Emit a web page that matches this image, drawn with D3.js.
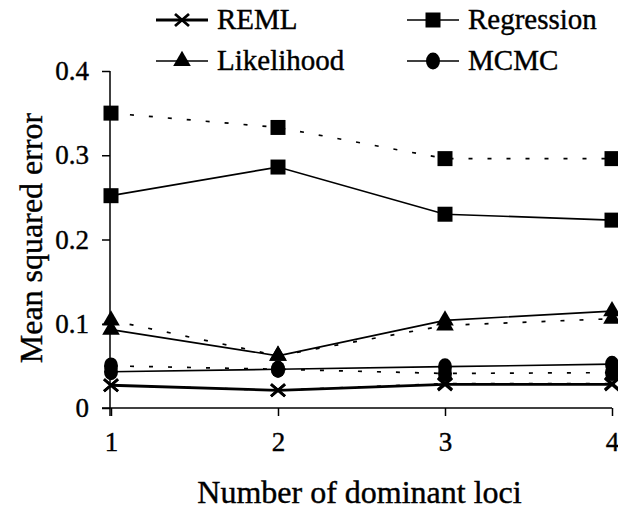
<!DOCTYPE html>
<html>
<head>
<meta charset="utf-8">
<script src="https://cdn.jsdelivr.net/npm/d3@7/dist/d3.min.js"></script>
<style>
  body { margin: 0; background: #fff; }
</style>
</head>
<body>
<div class="first"></div>
<script>
// number of dominant loci
const loci = [1, 2, 3, 4];
const methods = ['REML', 'Likelihood', 'Regression', 'MCMC'];
const yTicks = [0, 0.1, 0.2, 0.3, 0.4];

// solid lines
const remlSolid = [0.027, 0.021, 0.028, 0.028];
const likelihoodSolid = [0.093, 0.062, 0.104, 0.115];
const regressionSolid = [0.252, 0.286, 0.230, 0.223];
const mcmcSolid = [0.043, 0.046, 0.049, 0.052];

// dotted lines
const remlDotted = [0.027, 0.021, 0.029, 0.029];
const likelihoodDotted = [0.104, 0.062, 0.098, 0.106];
const regressionDotted = [0.350, 0.333, 0.296, 0.296];
const mcmcDotted = [0.050, 0.046, 0.041, 0.042];

const serif = "'Liberation Serif', 'Times New Roman', Times, serif";

myVis();

function myVis() {
  const width = 618;
  const height = 510;

  const svg = d3.select('.first').append('svg')
    .attr('width', width).attr('height', height);

  const x = d3.scaleLinear().domain([1, 4]).range([111, 612]);
  const y = d3.scaleLinear().domain([0, 0.4]).range([408, 71]);

  // series table, order = drawing order
  const series = [
    {method: 'Regression', values: regressionDotted, dotted: true},
    {method: 'Regression', values: regressionSolid, dotted: false},
    {method: 'Likelihood', values: likelihoodDotted, dotted: true},
    {method: 'Likelihood', values: likelihoodSolid, dotted: false},
    {method: 'REML', values: remlDotted, dotted: true},
    {method: 'REML', values: remlSolid, dotted: false},
    {method: 'MCMC', values: mcmcDotted, dotted: true},
    {method: 'MCMC', values: mcmcSolid, dotted: false}
  ];

  // axes
  const yAxis = svg.append('g')
    .attr('transform', 'translate(110, 0)')
    .call(d3.axisLeft(y).tickValues(yTicks).tickSize(8).tickPadding(13)
      .tickFormat(d => d === 0 ? '0' : d3.format('.1f')(d)));
  yAxis.select('.domain').attr('d', `M0,${y(0.4)}V416`);

  const xAxis = svg.append('g')
    .attr('transform', `translate(0, ${y(0)})`)
    .call(d3.axisBottom(x).tickValues(loci).tickSize(8).tickPadding(16)
      .tickFormat(d3.format('d')));
  xAxis.select('.domain').attr('d', `M102,0H${x(4)}`);

  svg.selectAll('.domain, .tick line').attr('stroke', '#000').attr('stroke-width', 1.5);
  svg.selectAll('g').attr('font-family', serif);
  svg.selectAll('.tick text').attr('font-size', 27).attr('fill', '#000')
    .attr('stroke', '#000').attr('stroke-width', 0.4);

  // axis titles
  svg.append('text')
    .attr('x', (x(1) + x(4)) / 2 - 2)
    .attr('y', 503)
    .attr('text-anchor', 'middle')
    .attr('font-family', serif)
    .attr('font-size', 32)
    .attr('stroke', '#000').attr('stroke-width', 0.4)
    .text('Number of dominant loci');

  svg.append('text')
    .attr('transform', 'translate(42, 238) rotate(-90)')
    .attr('text-anchor', 'middle')
    .attr('font-family', serif)
    .attr('font-size', 32)
    .attr('stroke', '#000').attr('stroke-width', 0.4)
    .text('Mean squared error');

  // lines
  const line = d3.line()
    .x((d, i) => x(loci[i]))
    .y(d => y(d));

  svg.selectAll('.series').data(series).enter()
    .append('path')
    .attr('class', 'series')
    .attr('d', d => line(d.values))
    .attr('fill', 'none')
    .attr('stroke', '#000')
    .attr('stroke-width', d => d.method === 'REML' && !d.dotted ? 2.8 : 1.7)
    .attr('stroke-dasharray', d => d.dotted ? '4,15' : null);

  // markers
  const points = series.flatMap(s => s.values.map((v, i) => ({method: s.method, x: loci[i], v: v})));
  svg.selectAll('.marker').data(points).enter()
    .append('g')
    .attr('class', 'marker')
    .attr('transform', d => `translate(${x(d.x)}, ${y(d.v)})`)
    .each(function(d) { drawMarker(d3.select(this), d.method); });

  // legend
  const legendPos = {
    REML: [156, 20],
    Likelihood: [156, 61],
    Regression: [407, 20],
    MCMC: [407, 61]
  };
  const legend = svg.selectAll('.legend').data(methods).enter()
    .append('g')
    .attr('class', 'legend')
    .attr('transform', d => `translate(${legendPos[d][0]}, ${legendPos[d][1]})`);
  legend.append('line')
    .attr('x1', 0).attr('x2', 52)
    .attr('stroke', '#000').attr('stroke-width', d => d === 'REML' ? 2.8 : 1.7);
  legend.append('g')
    .attr('transform', 'translate(26, 0)')
    .each(function(d) { drawMarker(d3.select(this), d); });
  legend.append('text')
    .attr('x', 61)
    .attr('y', 9)
    .attr('font-family', serif)
    .attr('font-size', 29)
    .attr('stroke', '#000').attr('stroke-width', 0.4)
    .text(d => d);
}

function drawMarker(g, method) {
  if (method === 'REML') {
    g.append('path')
      .attr('d', 'M-7,-6L7,6M-7,6L7,-6')
      .attr('stroke', '#000').attr('stroke-width', 2.8).attr('fill', 'none');
  } else if (method === 'Regression') {
    g.append('path')
      .attr('d', d3.symbol(d3.symbolSquare, 225)())
      .attr('fill', '#000');
  } else if (method === 'Likelihood') {
    g.append('path')
      .attr('d', d3.symbol(d3.symbolTriangle, 135)())
      .attr('fill', '#000');
  } else {
    g.append('ellipse')
      .attr('rx', 7).attr('ry', 8.5)
      .attr('fill', '#000');
  }
}
</script>
</body>
</html>
